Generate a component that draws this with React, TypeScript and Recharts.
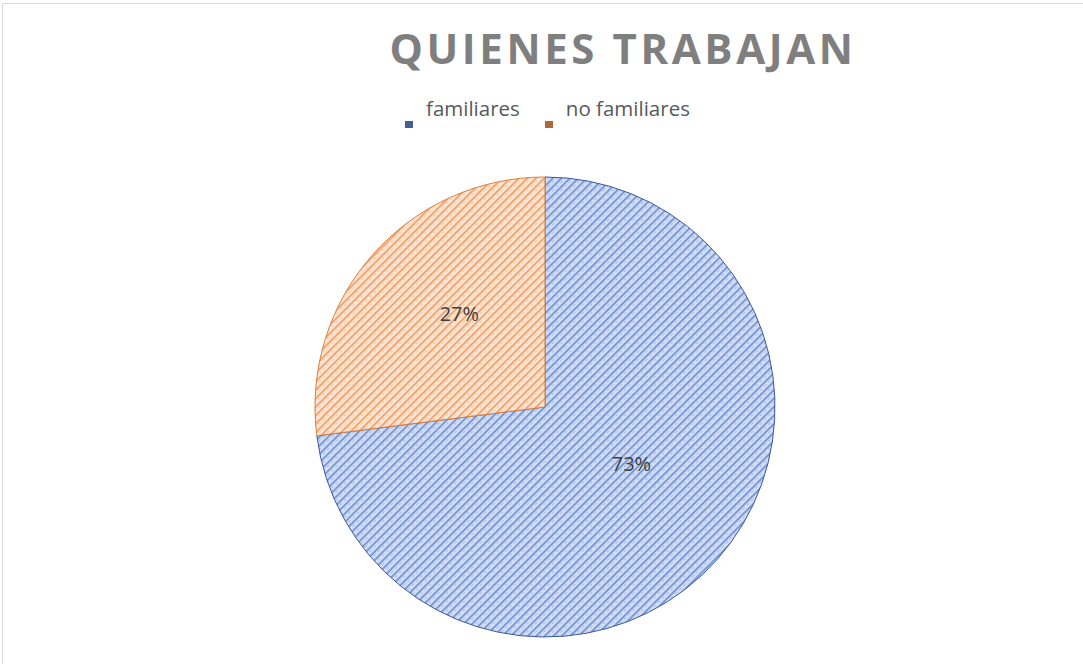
import { PieChart, Pie, Cell } from 'recharts';

const categories = ['familiares', 'no familiares'];
const values = [73, 27];
const labels = ['73%', '27%'];

const FILLS = ['url(#hatchBlue)', 'url(#hatchOrange)'];
const STROKES = ['#3b5998', '#d9803f'];
const SWATCH = ['#44608f', '#b0683a'];

const data = categories.map((name, i) => ({ name, value: values[i], label: labels[i] }));

const RAD = Math.PI / 180;

function renderLabel(props: any) {
  const { cx, cy, midAngle, outerRadius, index } = props;
  const r = outerRadius * (index === 0 ? 0.45 : 0.55);
  const a = midAngle + (index === 0 ? 8 : -6);
  const x = cx + r * Math.cos(-a * RAD);
  const y = cy + r * Math.sin(-a * RAD);
  return (
    <text x={x} y={y} fill="#404040" fontSize={20} fontFamily="'Open Sans', sans-serif" textAnchor="middle" dominantBaseline="central">
      {data[index].label}
    </text>
  );
}

export default function App() {
  return (
    <div style={{ position: 'absolute', left: 0, top: 0, width: 1083, height: 664, background: '#fff', overflow: 'hidden' }}>
      <div style={{ position: 'absolute', left: 2, top: 3, width: 1100, height: 700, borderLeft: '1px solid #d9d9d9', borderTop: '1px solid #d9d9d9' }} />
      <div style={{ position: 'absolute', left: 0, top: 19, width: 1246, textAlign: 'center', fontFamily: "'Open Sans', sans-serif", fontWeight: 700, fontSize: 42, letterSpacing: 3.6, color: '#7f7f7f' }}>
        QUIENES TRABAJAN
      </div>
      <div style={{ position: 'absolute', left: 405, top: 94, display: 'flex', fontFamily: "'Open Sans', sans-serif", fontSize: 20.5, color: '#595959' }}>
        {categories.map((c, i) => (
          <div key={c} style={{ display: 'flex', alignItems: 'flex-start', marginRight: 25 }}>
            <span style={{ width: 8, height: 7, background: SWATCH[i], marginTop: 27, marginRight: 13, display: 'inline-block' }} />
            <span>{c}</span>
          </div>
        ))}
      </div>
      <PieChart width={1083} height={664} margin={{ top: 0, right: 0, bottom: 0, left: 0 }} style={{ position: 'absolute', left: 0, top: 0 }}>
        <defs>
          <pattern id="hatchBlue" width="6" height="6" patternUnits="userSpaceOnUse" patternTransform="rotate(45)">
            <rect width="6" height="6" fill="#d3def4" />
            <rect x="0" y="0" width="2" height="6" fill="#7a9ada" />
            <rect x="3" y="0" width="1" height="3" fill="#aabde8" />
          </pattern>
          <pattern id="hatchOrange" width="6" height="6" patternUnits="userSpaceOnUse" patternTransform="rotate(45)">
            <rect width="6" height="6" fill="#fbe6d6" />
            <rect x="0" y="0" width="2" height="6" fill="#f0a772" />
            <rect x="3" y="0" width="1" height="3" fill="#f6c7a3" />
          </pattern>
        </defs>
        <Pie
          data={data}
          dataKey="value"
          nameKey="name"
          cx={545}
          cy={407}
          outerRadius={230}
          startAngle={90}
          endAngle={-270}
          stroke="none"
          label={renderLabel}
          labelLine={false}
          isAnimationActive={false}
        >
          {data.map((d, i) => (
            <Cell key={d.name} fill={FILLS[i]} stroke={STROKES[i]} strokeWidth={1} />
          ))}
        </Pie>
      </PieChart>
    </div>
  );
}
